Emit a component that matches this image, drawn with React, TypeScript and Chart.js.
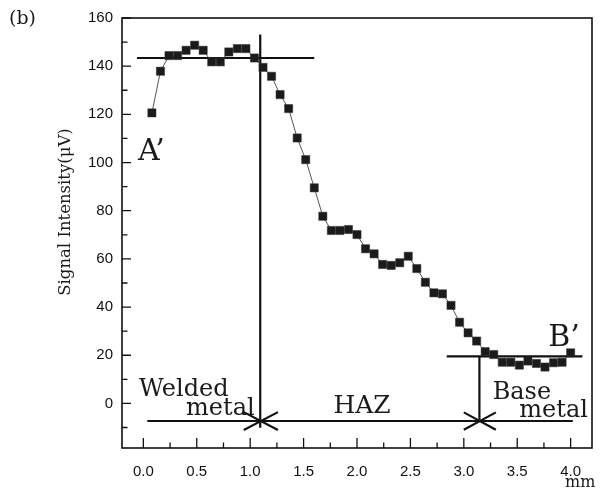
import { useEffect, useRef } from 'react';
import { Chart, registerables } from 'chart.js';

Chart.register(...registerables);

// distance along the weld (mm)
const positionsMm = [
  0.08, 0.16, 0.24, 0.32, 0.40, 0.48, 0.56, 0.64, 0.72, 0.80,
  0.88, 0.96, 1.04, 1.12, 1.20, 1.28, 1.36, 1.44, 1.52, 1.60,
  1.68, 1.76, 1.84, 1.92, 2.00, 2.08, 2.16, 2.24, 2.32, 2.40,
  2.48, 2.56, 2.64, 2.72, 2.80, 2.88, 2.96, 3.04, 3.12, 3.20,
  3.28, 3.36, 3.44, 3.52, 3.60, 3.68, 3.76, 3.84, 3.92, 4.00,
];

// signal intensity (µV)
const signalUV = [
  120.6, 137.9, 144.4, 144.4, 146.6, 148.7, 146.6, 141.8, 141.8, 145.9,
  147.3, 147.3, 143.4, 139.5, 135.8, 128.2, 122.4, 110.2, 101.2, 89.5,
  77.7, 71.8, 71.8, 72.2, 70.1, 64.2, 62.1, 57.7, 57.3, 58.4,
  61.1, 56.0, 50.3, 45.9, 45.5, 40.7, 33.7, 29.3, 25.9, 21.5,
  20.3, 17.1, 17.1, 15.9, 17.6, 16.6, 15.1, 16.9, 17.1, 21.0,
];

const yTickValues = [0, 20, 40, 60, 80, 100, 120, 140, 160];
const yMinorTickValues = [-10, 10, 30, 50, 70, 90, 110, 130, 150];
const xTickValues = [0, 0.5, 1.0, 1.5, 2.0, 2.5, 3.0, 3.5, 4.0];
const xMinorTickValues = [0.25, 0.75, 1.25, 1.75, 2.25, 2.75, 3.25, 3.75];

// guide lines drawn on the chart (data coordinates)
const weldLevel = [{ x: -0.06, y: 143.4 }, { x: 1.6, y: 143.4 }];
const weldBoundary = [{ x: 1.094, y: 153.1 }, { x: 1.094, y: -10.1 }];
const zoneAxis = [{ x: 0.037, y: -7.3 }, { x: 4.02, y: -7.3 }];
const baseBoundary = [{ x: 3.146, y: 19.5 }, { x: 3.146, y: -7.3 }];
const baseLevel = [{ x: 2.84, y: 19.5 }, { x: 4.11, y: 19.5 }];
const cross1a = [{ x: 0.94, y: -3.6 }, { x: 1.26, y: -11.0 }];
const cross1b = [{ x: 0.94, y: -11.0 }, { x: 1.26, y: -3.6 }];
const cross2a = [{ x: 3.0, y: -3.7 }, { x: 3.3, y: -10.9 }];
const cross2b = [{ x: 3.0, y: -10.9 }, { x: 3.3, y: -3.7 }];
const guideLines = [weldLevel, weldBoundary, zoneAxis, baseBoundary, baseLevel, cross1a, cross1b, cross2a, cross2b];

// text annotations: [text, x (mm), y (µV) baseline, font size]
const annotationTexts: [string, number, number, number][] = [
  ['A\u2019', -0.05, 101.2, 30],
  ['B\u2019', 3.79, 23.8, 30],
  ['Welded', -0.04, 3.0, 24],
  ['metal', 0.40, -4.6, 24],
  ['HAZ', 1.78, -4.1, 25],
  ['Base', 3.27, 1.7, 24],
  ['metal', 3.52, -5.5, 24],
];

const tickFont = { family: '"Liberation Sans", Arial, sans-serif', size: 15 };
const serif = '"DejaVu Serif", "Liberation Serif", serif';

export default function App() {
  const ref = useRef<HTMLCanvasElement | null>(null);

  useEffect(() => {
    const canvas = ref.current;
    if (!canvas) return;

    const decor = {
      id: 'decor',
      afterDraw(chart: any) {
        const { ctx, chartArea: a, scales } = chart;
        const xs = scales.x;
        const ys = scales.y;
        ctx.save();
        ctx.strokeStyle = '#111';
        ctx.lineWidth = 1.6;
        ctx.strokeRect(a.left, a.top, a.right - a.left, a.bottom - a.top);
        ctx.lineWidth = 1.3;
        ctx.beginPath();
        xTickValues.forEach((v) => {
          const p = xs.getPixelForValue(v);
          ctx.moveTo(p, a.bottom);
          ctx.lineTo(p, a.bottom - 10);
        });
        xMinorTickValues.forEach((v) => {
          const p = xs.getPixelForValue(v);
          ctx.moveTo(p, a.bottom);
          ctx.lineTo(p, a.bottom - 5.5);
        });
        yTickValues.forEach((v) => {
          const p = ys.getPixelForValue(v);
          ctx.moveTo(a.left, p);
          ctx.lineTo(a.left + 9, p);
        });
        yMinorTickValues.forEach((v) => {
          const p = ys.getPixelForValue(v);
          ctx.moveTo(a.left, p);
          ctx.lineTo(a.left + 5.5, p);
        });
        ctx.stroke();

        ctx.fillStyle = '#1a1a1a';
        ctx.textBaseline = 'alphabetic';
        ctx.textAlign = 'left';
        annotationTexts.forEach(([t, x, y, s]) => {
          ctx.font = `${s}px ${serif}`;
          ctx.fillText(t, xs.getPixelForValue(x), ys.getPixelForValue(y));
        });

        ctx.font = `16px ${serif}`;
        ctx.fillText('mm', 565, 487);

        ctx.font = `19px ${serif}`;
        ctx.fillText('(b)', 9, 24);

        ctx.save();
        ctx.translate(70, 212);
        ctx.rotate(-Math.PI / 2);
        ctx.textAlign = 'center';
        ctx.font = `16.5px ${serif}`;
        ctx.fillText('Signal Intensity(\u03bcV)', 0, 0);
        ctx.restore();
        ctx.restore();
      },
    };

    const chart = new Chart(canvas, {
      type: 'line',
      data: {
        datasets: [
          {
            data: positionsMm.map((x, i) => ({ x, y: signalUV[i] })),
            borderColor: '#555',
            borderWidth: 1,
            pointStyle: 'rect',
            pointRadius: 5.8,
            pointBackgroundColor: '#1b1b1b',
            pointBorderColor: '#333',
            pointBorderWidth: 0.5,
            tension: 0,
            order: 0,
          },
          ...guideLines.map((seg) => ({
            data: seg,
            borderColor: '#111',
            borderWidth: 2.2,
            pointRadius: 0,
            tension: 0,
            order: 1,
          })),
        ],
      },
      options: {
        animation: false,
        responsive: false,
        devicePixelRatio: 1,
        layout: { padding: { left: 0, top: 18, right: 11, bottom: 0 } },
        plugins: { legend: { display: false }, tooltip: { enabled: false } },
        scales: {
          x: {
            type: 'linear',
            min: -0.2,
            max: 4.2,
            grid: { display: false },
            border: { display: false },
            afterBuildTicks: (s: any) => {
              s.ticks = xTickValues.map((v) => ({ value: v }));
            },
            afterFit: (s: any) => {
              s.height = 44;
            },
            ticks: {
              autoSkip: false,
              maxRotation: 0,
              padding: 7,
              color: '#111',
              font: tickFont,
              callback: (v: any) => Number(v).toFixed(1),
            },
          },
          y: {
            type: 'linear',
            min: -18.5,
            max: 160,
            grid: { display: false },
            border: { display: false },
            afterBuildTicks: (s: any) => {
              s.ticks = yTickValues.map((v) => ({ value: v }));
            },
            afterFit: (s: any) => {
              s.width = 122;
            },
            ticks: {
              padding: 1,
              color: '#111',
              font: tickFont,
              callback: (v: any) => String(v),
            },
          },
        },
      },
      plugins: [decor],
    } as any);

    return () => chart.destroy();
  }, []);

  return (
    <div style={{ position: 'fixed', left: 0, top: 0, width: 603, height: 492, background: '#fff' }}>
      <canvas ref={ref} width={603} height={492} style={{ display: 'block' }} />
    </div>
  );
}
